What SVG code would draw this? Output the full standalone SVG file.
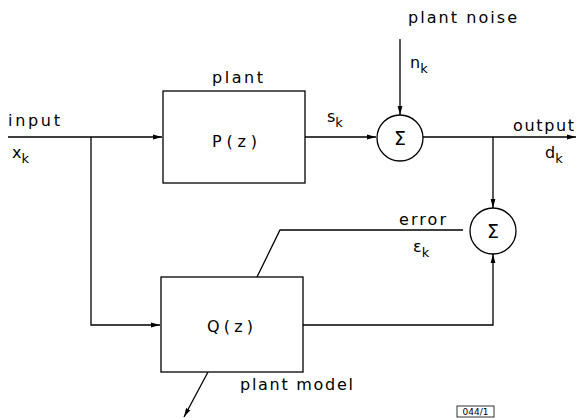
<svg xmlns="http://www.w3.org/2000/svg" width="579" height="418" viewBox="0 0 579 418">
<style>
.ln{fill:none;stroke:#000;stroke-width:1.3}
.bx{fill:#fff;stroke:#000;stroke-width:1.3}
.t{font-family:"DejaVu Sans","Liberation Sans",sans-serif;font-size:16px;fill:#000}
.s{font-size:13px}
.sg{font-family:"DejaVu Sans","Liberation Sans",sans-serif;font-size:19px;fill:#000}
.sm{font-family:"DejaVu Sans","Liberation Sans",sans-serif;font-size:9px;fill:#000}
</style>
<defs>
<marker id="ah" markerUnits="userSpaceOnUse" markerWidth="10" markerHeight="6" refX="9" refY="3" orient="auto">
<path d="M0,0.6 L9,3 L0,5.4 z" fill="#000"/>
</marker>
</defs>
<rect width="579" height="418" fill="#fff"/>
<g id="connectors">
<path class="ln" d="M8,137 H162" marker-end="url(#ah)"/>
<path class="ln" d="M91,137 V325 H160" marker-end="url(#ah)"/>
<path class="ln" d="M305,137 H376" marker-end="url(#ah)"/>
<path class="ln" d="M400,39 V115" marker-end="url(#ah)"/>
<path class="ln" d="M423,137 H576" marker-end="url(#ah)"/>
<path class="ln" d="M493,137 V208" marker-end="url(#ah)"/>
<path class="ln" d="M303,325 H493 V254" marker-end="url(#ah)"/>
<path class="ln" d="M463,230 H280 L257,277"/>
<path class="ln" d="M208,372 L184,417" marker-end="url(#ah)"/>
</g>
<g id="plant">
<rect class="bx" x="163" y="91" width="142" height="92"/>
<text class="t" x="212" y="147" textLength="45">P(z)</text>
<text class="t" x="212" y="83" textLength="51">plant</text>
</g>
<g id="plantModel">
<rect class="bx" x="161" y="277" width="142" height="95"/>
<text class="t" x="207" y="332" textLength="46">Q(z)</text>
<text class="t" x="240" y="390" textLength="113">plant model</text>
</g>
<g id="sum1">
<circle class="bx" cx="400" cy="138" r="23"/>
<text class="sg" x="400" y="145" text-anchor="middle">Σ</text>
</g>
<g id="sum2">
<circle class="bx" cx="493" cy="231" r="23"/>
<text class="sg" x="493" y="238" text-anchor="middle">Σ</text>
</g>
<g id="labels">
<text class="t" x="408" y="23" textLength="109">plant noise</text>
<text class="t" x="410" y="68">n<tspan class="s" dy="5">k</tspan></text>
<text class="t" x="8" y="126" textLength="52">input</text>
<text class="t" x="12" y="158">x<tspan class="s" dy="5">k</tspan></text>
<text class="t" x="327" y="122">s<tspan class="s" dy="5">k</tspan></text>
<text class="t" x="513" y="131" textLength="61">output</text>
<text class="t" x="545" y="158">d<tspan class="s" dy="5">k</tspan></text>
<text class="t" x="399" y="225" textLength="47">error</text>
<text class="t" x="413" y="252">ε<tspan class="s" dy="5">k</tspan></text>
</g>
<g id="ref">
<rect x="457" y="406" width="37" height="11" fill="none" stroke="#000" stroke-width="0.8"/>
<text class="sm" x="475.5" y="415" text-anchor="middle">044/1</text>
</g>
</svg>
